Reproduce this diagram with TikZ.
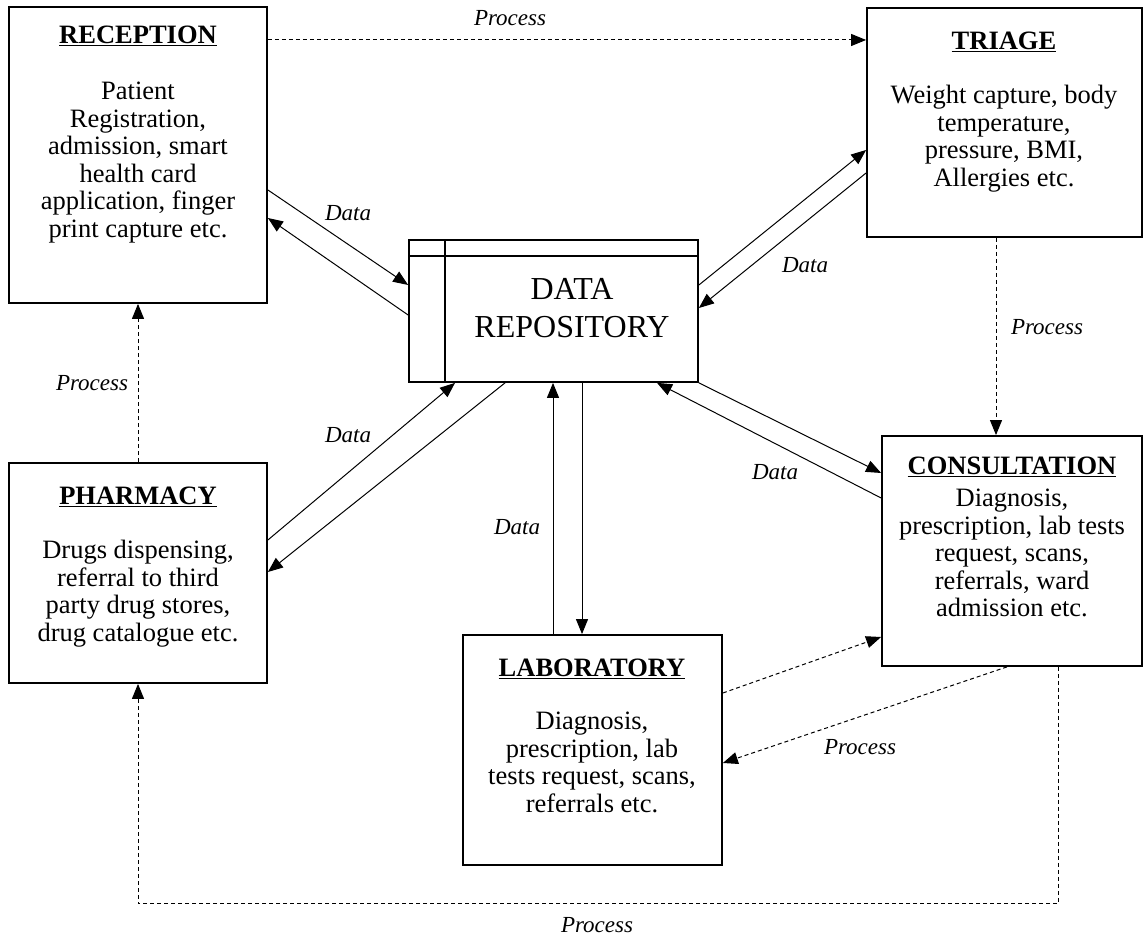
\documentclass[tikz,border=0pt]{standalone}
\usepackage{fontspec}
\setmainfont{Liberation Serif}
\usetikzlibrary{arrows.meta,calc}
\begin{document}
\begin{tikzpicture}[x=1pt,y=1pt,
  box/.style={draw, line width=1.8pt, inner sep=0pt, fill=white},
  title/.style={anchor=base, inner sep=0pt, font=\fontsize{26.5}{27.5}\selectfont\bfseries},
  body/.style={anchor=north, inner sep=0pt, align=center, font=\fontsize{26.5}{27.5}\selectfont},
  lbl/.style={inner sep=0pt, font=\fontsize{23}{27}\selectfont\itshape},
  tip/.style={-{Triangle[length=15pt,width=12pt]}},
  dataline/.style={tip, line width=1pt},
  procline/.style={tip, line width=1pt, dash pattern=on 4pt off 3pt}
]
\useasboundingbox (0,0) rectangle (1143,941);

% boxes
\node[box, minimum width=258pt, minimum height=296pt] (rec) at (138,786) {};
\node[box, minimum width=275pt, minimum height=229pt] (tri) at (1004.5,818.5) {};
\node[box, minimum width=289pt, minimum height=142pt] (data) at (553.5,630) {};
\node[box, minimum width=258pt, minimum height=220pt] (pha) at (138,368) {};
\node[box, minimum width=260pt, minimum height=230pt] (con) at (1012,390) {};
\node[box, minimum width=259pt, minimum height=230pt] (lab) at (592.5,191) {};

% data repository inner lines
\draw[line width=1.8pt] ([xshift=37pt]data.north west) -- ([xshift=37pt]data.south west);
\draw[line width=1.8pt] ([yshift=-17pt]data.north west) -- ([yshift=-17pt]data.north east);
\node[inner sep=0pt, align=center, font=\fontsize{32}{38}\selectfont] (datat) at (572,633) {DATA\\REPOSITORY};

% titles and texts
\node[title] (recti) at (138,897) {\underline{RECEPTION}};
\node[body] (rect) at (138,859) {Patient\\Registration,\\admission, smart\\health card\\application, finger\\print capture etc.};
\node[title] (trici) at (1004,891) {\underline{TRIAGE}};
\node[body] (trit) at (1004,856) {Weight capture, body\\temperature,\\pressure, BMI,\\Allergies etc.};
\node[title] (phati) at (138,436) {\underline{PHARMACY}};
\node[body] (phat) at (138,401) {Drugs dispensing,\\referral to third\\party drug stores,\\drug catalogue etc.};
\node[title] (conti) at (1012,466) {\underline{CONSULTATION}};
\node[body] (cont) at (1012,452) {Diagnosis,\\prescription, lab tests\\request, scans,\\referrals, ward\\admission etc.};
\node[title] (labti) at (592,264) {\underline{LABORATORY}};
\node[body] (labt) at (592,229) {Diagnosis,\\prescription, lab\\tests request, scans,\\referrals etc.};

% data connectors
\draw[dataline] ([yshift=-35pt]rec.east) -- ([yshift=26pt]data.west);
\draw[dataline] ([yshift=-4pt]data.west) -- ([yshift=-63pt]rec.east);
\draw[dataline] ([yshift=26pt]data.east) -- ([yshift=-27.5pt]tri.west);
\draw[dataline] ([yshift=-50.5pt]tri.west) -- ([yshift=3pt]data.east);
\draw[dataline] (data.south east) -- ([yshift=78pt]con.west);
\draw[dataline] ([yshift=53pt]con.west) -- ([xshift=103.5pt]data.south);
\draw[dataline] ([xshift=-39.5pt]lab.north) -- ([xshift=-0.5pt]data.south);
\draw[dataline] ([xshift=28.5pt]data.south) -- ([xshift=-10.5pt]lab.north);
\draw[dataline] ([yshift=33pt]pha.east) -- ([xshift=-98.5pt]data.south);
\draw[dataline] ([xshift=-48.5pt]data.south) -- ([yshift=1pt]pha.east);

% process connectors
\draw[procline] ([yshift=115pt]rec.east) -- ([yshift=82.5pt]tri.west);
\draw[procline] ([xshift=-8.5pt]tri.south) -- ([xshift=-16pt]con.north);
\draw[procline] (pha.north) -- (rec.south);
\draw[procline] ([yshift=57pt]lab.east) -- ([yshift=-86pt]con.west);
\draw[procline] ([xshift=-5pt]con.south) -- ([yshift=-13pt]lab.east);
\draw[procline] ([xshift=46pt]con.south) -- ++(0,-237) -| (pha.south);

% labels
\node[lbl] (l1) at (510,923) {Process};
\node[lbl] (l2) at (348,728) {Data};
\node[lbl] (l3) at (805,676) {Data};
\node[lbl] (l4) at (775,469) {Data};
\node[lbl] (l5) at (517,414) {Data};
\node[lbl] (l6) at (348,506) {Data};
\node[lbl] (l7) at (1047,614) {Process};
\node[lbl] (l8) at (92,558) {Process};
\node[lbl] (l9) at (860,194) {Process};
\node[lbl] (l10) at (597,16) {Process};
\end{tikzpicture}
\end{document}
